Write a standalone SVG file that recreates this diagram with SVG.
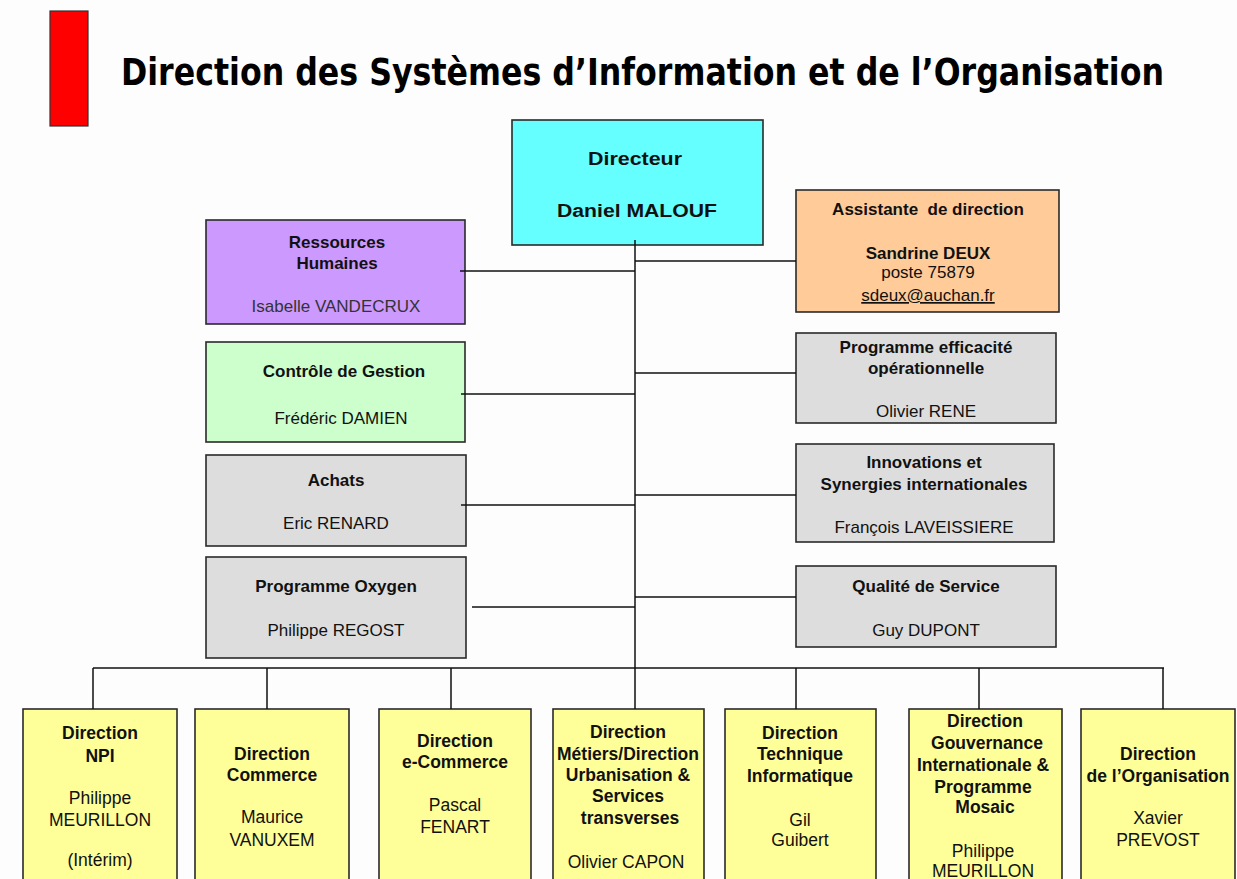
<svg xmlns="http://www.w3.org/2000/svg" width="1237" height="879" viewBox="0 0 1237 879">
<defs>
<style>
.box{stroke:#2a2a2a;stroke-width:1.6}
.t{font-family:"Liberation Sans",Arial,sans-serif;font-size:17.5px;fill:#111;text-anchor:middle}
.s{font-size:17px}
.b{font-weight:bold}
.n{fill:#333}
.c{stroke:#111;stroke-width:1.5;fill:none}
</style>
</defs>
<rect width="1237" height="879" fill="#fdfdfd"/>
<rect x="50" y="11" width="38" height="115" fill="#ff0000" stroke="#333" stroke-width="1.2"/>
<text transform="translate(121,85) scale(1,1.4)" x="0" y="0" font-family="DejaVu Sans,Verdana,sans-serif" font-weight="bold" font-size="26.5" textLength="1043" lengthAdjust="spacingAndGlyphs" fill="#000">Direction des Systèmes d’Information et de l’Organisation</text>

<g id="directeur">
<rect class="box" x="512" y="120" width="251" height="125" fill="#66ffff"/>
<text class="t b" x="635" y="165" font-size="22" textLength="94" lengthAdjust="spacingAndGlyphs">Directeur</text>
<text class="t b" x="637" y="217" font-size="22" textLength="160" lengthAdjust="spacingAndGlyphs">Daniel MALOUF</text>
</g>
<g id="assistante">
<rect class="box" x="796" y="190" width="263" height="122" fill="#ffcc99"/>
<text class="t s b" x="928" y="215" xml:space="preserve">Assistante  de direction</text>
<text class="t s b" x="928" y="259">Sandrine DEUX</text>
<text class="t s" x="928" y="278">poste 75879</text>
<text class="t s" x="928" y="301" text-decoration="underline">sdeux@auchan.fr</text>
</g>
<g id="rh">
<rect class="box" x="206" y="220" width="259" height="104" fill="#cc99ff"/>
<text class="t s b" x="337" y="248">Ressources</text>
<text class="t s b" x="337" y="269">Humaines</text>
<text class="t s n" x="336" y="312">Isabelle VANDECRUX</text>
</g>
<g id="controle">
<rect class="box" x="206" y="342" width="259" height="100" fill="#ccffcc"/>
<text class="t s b" x="344" y="377">Contrôle de Gestion</text>
<text class="t s" x="341" y="424">Frédéric DAMIEN</text>
</g>
<g id="achats">
<rect class="box" x="206" y="455" width="260" height="91" fill="#dddddd"/>
<text class="t s b" x="336" y="486">Achats</text>
<text class="t s" x="336" y="529">Eric RENARD</text>
</g>
<g id="oxygen">
<rect class="box" x="206" y="557" width="260" height="101" fill="#dddddd"/>
<text class="t s b" x="336" y="592">Programme Oxygen</text>
<text class="t s" x="336" y="636">Philippe REGOST</text>
</g>
<g id="efficacite">
<rect class="box" x="796" y="333" width="260" height="90" fill="#dddddd"/>
<text class="t s b" x="926" y="353">Programme efficacité</text>
<text class="t s b" x="926" y="374">opérationnelle</text>
<text class="t s" x="926" y="417">Olivier RENE</text>
</g>
<g id="innovations">
<rect class="box" x="796" y="444" width="258" height="98" fill="#dddddd"/>
<text class="t s b" x="924" y="468">Innovations et</text>
<text class="t s b" x="924" y="490">Synergies internationales</text>
<text class="t s" x="924" y="533">François LAVEISSIERE</text>
</g>
<g id="qualite">
<rect class="box" x="796" y="566" width="260" height="81" fill="#dddddd"/>
<text class="t s b" x="926" y="592">Qualité de Service</text>
<text class="t s" x="926" y="636">Guy DUPONT</text>
</g>

<g id="npi">
<rect class="box" x="23" y="709" width="154" height="190" fill="#ffff99"/>
<text class="t b" x="100" y="739">Direction</text>
<text class="t b" x="100" y="762">NPI</text>
<text class="t" x="100" y="804">Philippe</text>
<text class="t" x="100" y="826">MEURILLON</text>
<text class="t" x="100" y="866" font-size="14">(Intérim)</text>
</g>
<g id="commerce">
<rect class="box" x="195" y="709" width="154" height="190" fill="#ffff99"/>
<text class="t b" x="272" y="760">Direction</text>
<text class="t b" x="272" y="781">Commerce</text>
<text class="t" x="272" y="823">Maurice</text>
<text class="t" x="272" y="846">VANUXEM</text>
</g>
<g id="ecommerce">
<rect class="box" x="379" y="709" width="152" height="190" fill="#ffff99"/>
<text class="t b" x="455" y="747">Direction</text>
<text class="t b" x="455" y="768">e-Commerce</text>
<text class="t" x="455" y="811">Pascal</text>
<text class="t" x="455" y="833">FENART</text>
</g>
<g id="metiers">
<rect class="box" x="553" y="709" width="151" height="190" fill="#ffff99"/>
<text class="t b" x="628" y="738">Direction</text>
<text class="t b" x="628" y="760">Métiers/Direction</text>
<text class="t b" x="628" y="781">Urbanisation &amp;</text>
<text class="t b" x="628" y="802">Services</text>
<text class="t b" x="630" y="824">transverses</text>
<text class="t" x="626" y="868">Olivier CAPON</text>
</g>
<g id="technique">
<rect class="box" x="725" y="709" width="151" height="190" fill="#ffff99"/>
<text class="t b" x="800" y="739">Direction</text>
<text class="t b" x="800" y="760">Technique</text>
<text class="t b" x="800" y="782">Informatique</text>
<text class="t" x="800" y="826">Gil</text>
<text class="t" x="800" y="846">Guibert</text>
</g>
<g id="gouvernance">
<rect class="box" x="909" y="709" width="153" height="190" fill="#ffff99"/>
<text class="t b" x="985" y="727">Direction</text>
<text class="t b" x="987" y="749">Gouvernance</text>
<text class="t b" x="983" y="771">Internationale &amp;</text>
<text class="t b" x="983" y="793">Programme</text>
<text class="t b" x="985" y="813">Mosaic</text>
<text class="t" x="983" y="857">Philippe</text>
<text class="t" x="983" y="877">MEURILLON</text>
</g>
<g id="organisation">
<rect class="box" x="1081" y="709" width="154" height="190" fill="#ffff99"/>
<text class="t b" x="1158" y="760">Direction</text>
<text class="t b" x="1158" y="782">de l’Organisation</text>
<text class="t" x="1158" y="824">Xavier</text>
<text class="t" x="1158" y="846">PREVOST</text>
</g>

<g id="connectors">
<path class="c" d="M635 240V668"/>
<path class="c" d="M635 261H796"/>
<path class="c" d="M460 271H635"/>
<path class="c" d="M461 394H635"/>
<path class="c" d="M461 505H635"/>
<path class="c" d="M472 607H635"/>
<path class="c" d="M635 373H796"/>
<path class="c" d="M635 495H796"/>
<path class="c" d="M635 597H796"/>
<path class="c" d="M93 668H1164"/>
<path class="c" d="M93 668V709M267 668V709M451 668V709M635 668V709M796 668V709M979 668V709M1163 668V709"/>
</g>
</svg>
